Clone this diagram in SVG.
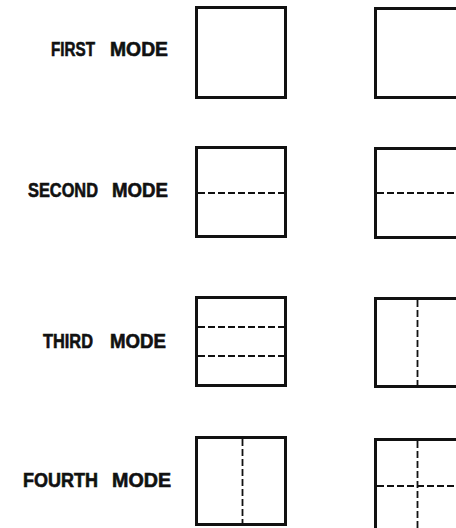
<svg xmlns="http://www.w3.org/2000/svg" width="456" height="528" viewBox="0 0 456 528">
<style>
.lbl{font-family:"Liberation Sans",Arial,sans-serif;font-weight:bold;font-size:19.5px;fill:#111;stroke:#111;stroke-width:0.6}
.box{fill:none;stroke:#111;stroke-width:3}
.node{fill:none;stroke:#111;stroke-width:1.8;stroke-dasharray:7 3}
</style>
<rect width="456" height="528" fill="#fff"/>
<g id="first">
<text class="lbl" y="56"><tspan x="51" textLength="44" lengthAdjust="spacingAndGlyphs">FIRST</tspan> <tspan x="110" textLength="58" lengthAdjust="spacingAndGlyphs">MODE</tspan></text>
<rect class="box" x="196.5" y="7.5" width="89" height="90"/>
<rect class="box" x="375.5" y="8.5" width="92" height="89"/>
</g>
<g id="second">
<text class="lbl" y="197"><tspan x="28" textLength="70" lengthAdjust="spacingAndGlyphs">SECOND</tspan> <tspan x="112" textLength="56" lengthAdjust="spacingAndGlyphs">MODE</tspan></text>
<rect class="box" x="196.5" y="147.5" width="89" height="89"/>
<line class="node" x1="198" y1="193" x2="284" y2="193"/>
<rect class="box" x="375.5" y="148.5" width="92" height="89"/>
<line class="node" x1="377" y1="193" x2="456" y2="193"/>
</g>
<g id="third">
<text class="lbl" y="348"><tspan x="43" textLength="50" lengthAdjust="spacingAndGlyphs">THIRD</tspan> <tspan x="110" textLength="56" lengthAdjust="spacingAndGlyphs">MODE</tspan></text>
<rect class="box" x="196.5" y="297.5" width="89" height="88"/>
<line class="node" x1="198" y1="327" x2="284" y2="327"/>
<line class="node" x1="198" y1="356" x2="284" y2="356"/>
<rect class="box" x="375.5" y="298.5" width="92" height="88"/>
<line class="node" x1="417.5" y1="300" x2="417.5" y2="385"/>
</g>
<g id="fourth">
<text class="lbl" y="487"><tspan x="23" textLength="75" lengthAdjust="spacingAndGlyphs">FOURTH</tspan> <tspan x="112" textLength="59" lengthAdjust="spacingAndGlyphs">MODE</tspan></text>
<rect class="box" x="196.5" y="437.5" width="89" height="87"/>
<line class="node" x1="242.5" y1="439" x2="242.5" y2="523"/>
<rect class="box" x="375.5" y="439.5" width="92" height="92"/>
<line class="node" x1="417.5" y1="441" x2="417.5" y2="528"/>
<line class="node" x1="377" y1="486" x2="456" y2="486"/>
</g>
<g id="connectors"></g>
</svg>
